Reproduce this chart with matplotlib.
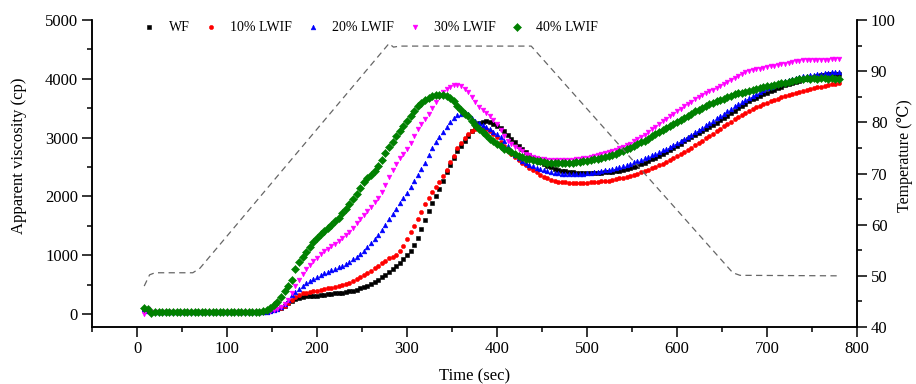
import matplotlib
matplotlib.use("Agg")
import matplotlib.pyplot as plt
from matplotlib.ticker import MultipleLocator
import numpy as np

plt.rcParams["font.family"] = ["Liberation Serif", "DejaVu Serif"]

# RVA readings, one every 4 s from 8 s to 780 s
time_s = np.arange(8, 784, 4)

wf = [
    80, 60, 35, 35, 35, 35, 35, 35, 35, 35,
    35, 35, 35, 35, 35, 35, 35, 35, 35, 35,
    35, 35, 35, 35, 35, 35, 35, 35, 35, 35,
    35, 35, 36, 38, 42, 50, 62, 80, 110, 145,
    185, 225, 255, 280, 295, 300, 305, 310, 315, 322,
    328, 335, 342, 350, 358, 366, 375, 385, 398, 415,
    435, 460, 485, 515, 550, 585, 625, 670, 715, 765,
    820, 870, 930, 1000, 1080, 1170, 1300, 1450, 1600, 1750,
    1880, 2000, 2130, 2270, 2410, 2540, 2660, 2770, 2860, 2940,
    3020, 3120, 3200, 3250, 3270, 3275, 3265, 3240, 3200, 3160,
    3105, 3045, 2985, 2920, 2860, 2800, 2750, 2700, 2660, 2625,
    2590, 2555, 2525, 2495, 2475, 2455, 2440, 2428, 2418, 2410,
    2403, 2398, 2395, 2395, 2397, 2400, 2403, 2407, 2411, 2415,
    2420, 2428, 2438, 2450, 2465, 2482, 2500, 2520, 2545, 2570,
    2600, 2630, 2660, 2690, 2720, 2750, 2785, 2820, 2860, 2900,
    2940, 2975, 3010, 3045, 3080, 3115, 3150, 3185, 3220, 3255,
    3295, 3335, 3375, 3420, 3460, 3500, 3540, 3580, 3615, 3650,
    3680, 3710, 3735, 3760, 3790, 3815, 3840, 3865, 3890, 3910,
    3930, 3950, 3970, 3990, 4005, 4020, 4035, 4050, 4060, 4070,
    4078, 4085, 4090, 4090,
]

lwif_10 = [
    80, 60, 35, 35, 35, 35, 35, 35, 35, 35,
    35, 35, 35, 35, 35, 35, 35, 35, 35, 35,
    35, 35, 35, 35, 35, 35, 35, 35, 35, 35,
    35, 35, 36, 38, 42, 50, 62, 80, 100, 130,
    185, 240, 290, 330, 350, 360, 372, 385, 398, 410,
    422, 435, 448, 460, 475, 490, 510, 535, 560, 590,
    625, 660, 695, 735, 780, 825, 865, 905, 945, 975,
    1010, 1075, 1165, 1275, 1395, 1505, 1610, 1730, 1865, 1970,
    2070, 2165, 2250, 2340, 2450, 2590, 2690, 2820, 2905, 2990,
    3060, 3110, 3150, 3165, 3160, 3140, 3110, 3070, 3010, 2925,
    2850, 2780, 2720, 2670, 2620, 2575, 2530, 2490, 2450, 2410,
    2370, 2335, 2305, 2280, 2262, 2250, 2242, 2237, 2233, 2230,
    2230, 2230, 2232, 2235, 2238, 2242, 2248, 2255, 2262, 2270,
    2280, 2292, 2305, 2320, 2335, 2352, 2370, 2390, 2410, 2432,
    2455, 2480, 2505, 2530, 2560, 2590, 2620, 2650, 2685, 2720,
    2755, 2790, 2830, 2870, 2910, 2950, 2990, 3030, 3070, 3110,
    3150, 3190, 3230, 3270, 3310, 3350, 3385, 3420, 3455, 3485,
    3515, 3545, 3570, 3595, 3620, 3645, 3665, 3685, 3705, 3725,
    3745, 3765, 3780, 3795, 3810, 3825, 3840, 3855, 3868, 3880,
    3892, 3905, 3915, 3925,
]

lwif_20 = [
    80, 60, 35, 35, 35, 35, 35, 35, 35, 35,
    35, 35, 35, 35, 35, 35, 35, 35, 35, 35,
    35, 35, 35, 35, 35, 35, 35, 35, 35, 35,
    35, 35, 36, 38, 42, 50, 65, 90, 125, 175,
    245, 320, 380, 430, 480, 525, 565, 600, 630, 660,
    690, 720, 745, 770, 795, 825, 855, 890, 930, 975,
    1025, 1080, 1140, 1200, 1270, 1345, 1430, 1520, 1610, 1700,
    1790, 1880, 1970, 2060, 2160, 2265, 2370, 2470, 2570, 2700,
    2820, 2920, 3010, 3100, 3180, 3260, 3330, 3380, 3410, 3430,
    3400, 3340, 3290, 3250, 3215, 3180, 3140, 3100, 3060, 3010,
    2940, 2860, 2780, 2710, 2650, 2600, 2565, 2535, 2510, 2490,
    2470, 2450, 2430, 2415, 2405, 2395, 2388, 2383, 2380, 2380,
    2382, 2385, 2390, 2395, 2402, 2410, 2420, 2430, 2442, 2455,
    2468, 2482, 2498, 2515, 2535, 2555, 2578, 2600, 2625, 2650,
    2675, 2700, 2728, 2755, 2785, 2815, 2845, 2875, 2905, 2940,
    2975, 3010, 3050, 3090, 3130, 3170, 3210, 3250, 3290, 3330,
    3370, 3410, 3450, 3490, 3530, 3570, 3610, 3645, 3680, 3710,
    3745, 3780, 3810, 3840, 3865, 3890, 3915, 3935, 3955, 3975,
    3995, 4010, 4025, 4040, 4050, 4060, 4070, 4080, 4090, 4100,
    4105, 4110, 4115, 4120,
]

lwif_30 = [
    0, 85, 40, 35, 35, 35, 35, 35, 35, 35,
    35, 35, 35, 35, 35, 35, 35, 35, 35, 35,
    35, 35, 35, 35, 35, 35, 35, 35, 35, 35,
    35, 35, 36, 40, 45, 55, 70, 90, 120, 170,
    240, 350, 470, 580, 680, 770, 840, 900, 960, 1015,
    1065, 1110, 1150, 1190, 1240, 1290, 1345, 1400, 1460, 1540,
    1620, 1690, 1760, 1825, 1900, 1970, 2080, 2200, 2335, 2450,
    2560, 2650, 2720, 2800, 2910, 3030, 3140, 3230, 3315, 3410,
    3510, 3600, 3690, 3770, 3820, 3865, 3890, 3895, 3875, 3830,
    3770, 3690, 3610, 3525, 3470, 3420, 3360, 3300, 3230, 3130,
    3030, 2950, 2890, 2840, 2800, 2765, 2730, 2700, 2675, 2660,
    2645, 2632, 2622, 2618, 2615, 2615, 2615, 2618, 2620, 2625,
    2632, 2640, 2650, 2662, 2675, 2688, 2702, 2717, 2733, 2750,
    2770, 2795, 2820, 2845, 2870, 2900, 2935, 2970, 3010, 3050,
    3095, 3140, 3185, 3230, 3275, 3320, 3365, 3410, 3450, 3490,
    3530, 3570, 3610, 3650, 3690, 3725, 3760, 3790, 3815, 3840,
    3870, 3905, 3940, 3975, 4010, 4045, 4085, 4120, 4140, 4150,
    4160, 4170, 4180, 4195, 4210, 4225, 4235, 4250, 4260, 4270,
    4285, 4300, 4310, 4312, 4315, 4318, 4320, 4322, 4325, 4325,
    4328, 4330, 4332, 4335,
]

lwif_40 = [
    95, 90, 20, 35, 35, 35, 35, 35, 35, 35,
    35, 35, 35, 35, 35, 35, 35, 35, 35, 35,
    35, 35, 35, 35, 35, 35, 35, 35, 35, 35,
    35, 35, 38, 45, 70, 95, 150, 210, 295, 385,
    480, 580, 760, 890, 965, 1055, 1145, 1225, 1300, 1355,
    1405, 1460, 1510, 1580, 1630, 1710, 1790, 1870, 1950, 2040,
    2140, 2245, 2310, 2370, 2440, 2515, 2620, 2735, 2840, 2930,
    3020, 3110, 3200, 3290, 3375, 3460, 3530, 3595, 3645, 3680,
    3710, 3725, 3732, 3728, 3710, 3670, 3615, 3545, 3475, 3410,
    3360, 3285, 3215, 3155, 3095, 3040, 2985, 2935, 2895, 2855,
    2815, 2785, 2750, 2720, 2690, 2665, 2645, 2635, 2622, 2610,
    2598, 2585, 2575, 2570, 2567, 2565, 2565, 2567, 2570, 2575,
    2582, 2590, 2598, 2608, 2620, 2632, 2645, 2658, 2670, 2685,
    2705, 2725, 2750, 2775, 2800, 2830, 2860, 2890, 2920, 2950,
    2985, 3020, 3055, 3090, 3125, 3160, 3195, 3230, 3265, 3300,
    3335, 3375, 3410, 3445, 3475, 3505, 3535, 3565, 3590, 3615,
    3640, 3660, 3685, 3710, 3740, 3755, 3760, 3770, 3790, 3810,
    3830, 3845, 3860, 3875, 3885, 3900, 3915, 3925, 3935, 3945,
    3960, 3975, 3990, 4000, 4010, 4000, 4015, 4005, 4020, 4010,
    4000, 4015, 4005, 3995,
]

# temperature profile breakpoints (s, degC)
temp_time = [8, 14, 20, 62, 70, 280, 285, 292, 438, 662, 670, 780]
temp_c = [48.0, 50.2, 50.6, 50.6, 51.5, 95.4, 94.7, 94.9, 94.9, 50.6, 50.1, 50.0]

series = [
    ("WF", wf, "black", "s", 2.6),
    ("10% LWIF", lwif_10, "red", "o", 3.0),
    ("20% LWIF", lwif_20, "blue", "^", 3.4),
    ("30% LWIF", lwif_30, "magenta", "v", 3.4),
    ("40% LWIF", lwif_40, "green", "D", 4.2),
]

fig = plt.figure(figsize=(9.16, 3.84), dpi=100)
ax = fig.add_axes([92 / 916, 1 - 327 / 384, 765 / 916, 307 / 384])
ax_t = ax.twinx()

for label, vals, color, marker, ms in series:
    ax.plot(time_s, vals, linestyle="none", marker=marker, markersize=ms,
            color=color, markeredgewidth=0.4, label=label, zorder=3)

ax_t.plot(temp_time, temp_c, color="#666666", linestyle=(0, (5, 3.5)), linewidth=0.9)

ax.set_xlim(-50, 800)
ax.set_ylim(-220, 5000)
ax_t.set_ylim(40, 100)

ax.xaxis.set_major_locator(MultipleLocator(100))
ax.xaxis.set_minor_locator(MultipleLocator(50))
ax.yaxis.set_major_locator(MultipleLocator(1000))
ax.yaxis.set_minor_locator(MultipleLocator(500))
ax_t.yaxis.set_major_locator(MultipleLocator(10))
ax_t.yaxis.set_minor_locator(MultipleLocator(5))

for a in (ax, ax_t):
    a.spines["top"].set_visible(False)
    for s in a.spines.values():
        s.set_linewidth(1.1)
    a.tick_params(which="major", direction="out", length=7, width=1.1, labelsize=12, pad=3)
    a.tick_params(which="minor", direction="out", length=3.5, width=1.1)

ax.set_xlabel("Time (sec)", fontsize=12, labelpad=8)
ax.set_ylabel("Apparent viscosity (cp)", fontsize=12)
ax_t.set_ylabel("Temperature (\u2103)", fontsize=11.5)
ax.yaxis.set_label_coords(-0.085, 0.557)
ax_t.yaxis.set_label_coords(1.052, 0.557)

ax.legend(loc="center left", bbox_to_anchor=(0.066, 0.974), ncol=5, frameon=False,
          fontsize=10, handlelength=1.0, handletextpad=0.9, columnspacing=1.0,
          borderaxespad=0, borderpad=0)

fig.savefig("out.png", dpi=100)
